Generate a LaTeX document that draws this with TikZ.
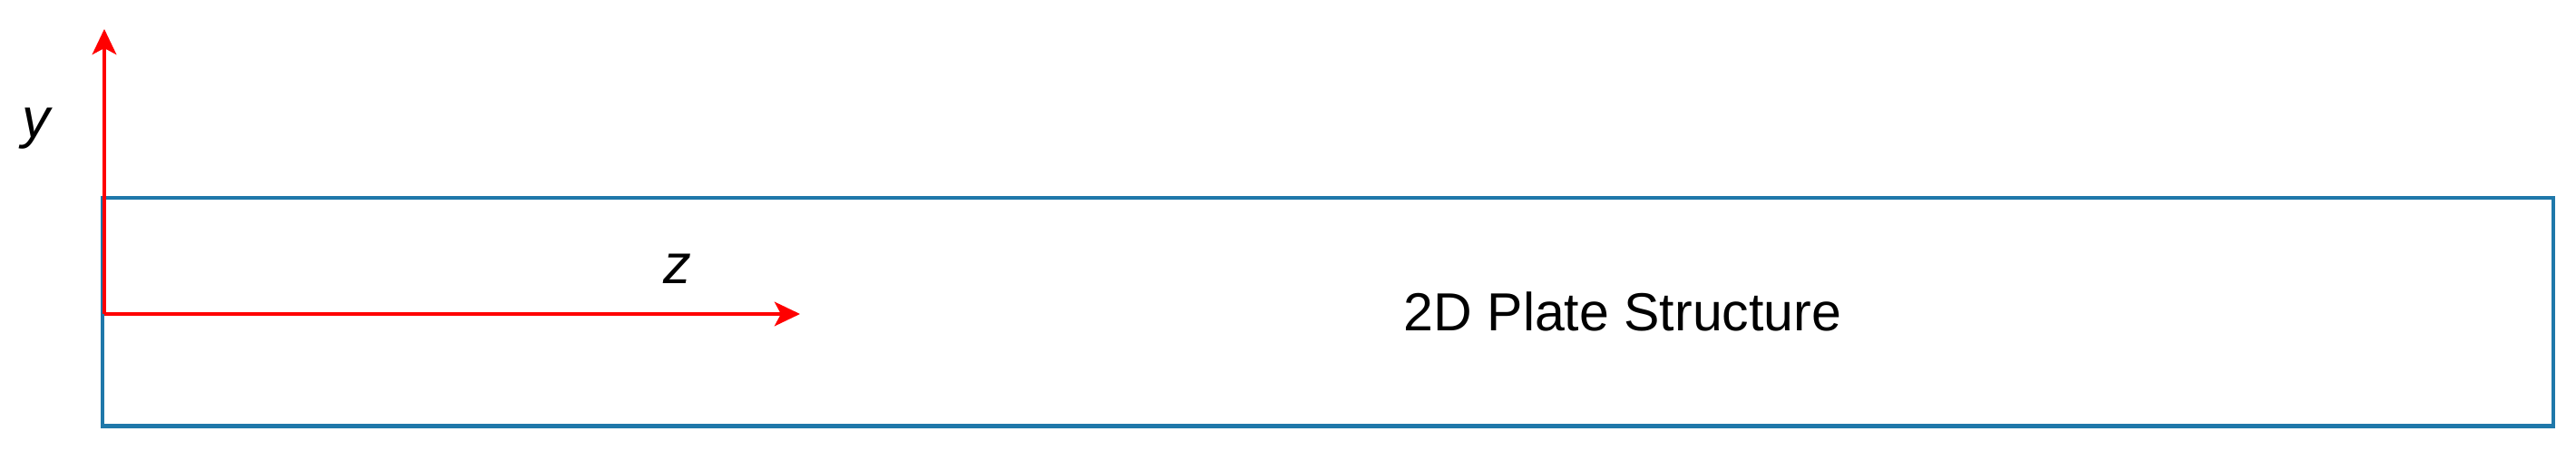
\documentclass[tikz,border=0pt]{standalone}
\usepackage{fontspec}
\setmainfont{Liberation Sans}
\usetikzlibrary{arrows.meta}

\definecolor{PlateBlue}{RGB}{31,120,170}
\colorlet{AxisRed}{red}

\tikzset{
    plate/.style={draw=PlateBlue, line width=1.2pt},
    axis/.style={draw=AxisRed, line width=0.9pt, -{Stealth[length=8pt,width=7.6pt,inset=2pt]}},
    axislabel/.style={font=\fontsize{17.5}{20}\selectfont\itshape, inner sep=0pt}
}

\begin{document}
\begin{tikzpicture}

    \useasboundingbox (0, 0) rectangle (28.4, 5.08);

    \def\plateleft{1.13}
    \def\plateright{28.15}
    \def\platebottom{0.385}
    \def\platetop{2.90}

    \draw[plate] (\plateleft, \platebottom) rectangle (\plateright, \platetop);

    \coordinate (origin) at (1.15, 1.62);
    \coordinate (ytip) at (1.15, 4.76);
    \coordinate (ztip) at (8.82, 1.62);
    \draw[axis] (origin) -- (ytip);
    \draw[axis] (origin) -- (ztip);

    \node[axislabel] (ylabel) at (0.40, 3.66) {y};
    \node[axislabel] (zlabel) at (7.47, 2.12) {z};

    \node[font=\fontsize{16.8}{20}\selectfont, inner sep=0pt]
    (platelabel) at (17.89, 1.645) {2D Plate Structure};

\end{tikzpicture}
\end{document}
